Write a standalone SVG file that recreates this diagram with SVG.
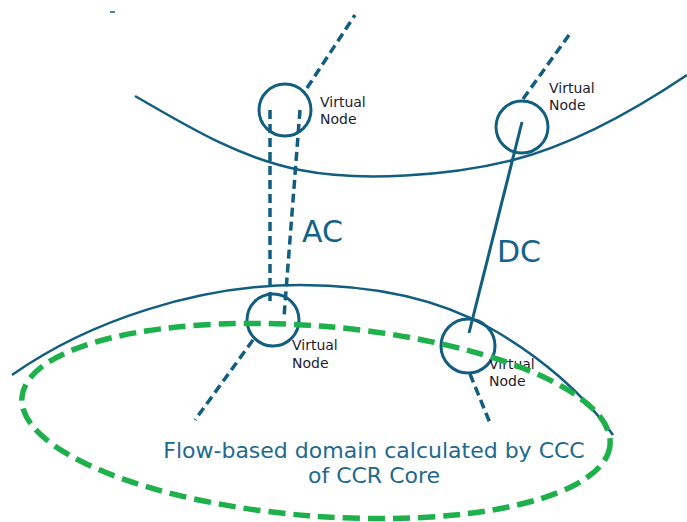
<svg xmlns="http://www.w3.org/2000/svg" width="687" height="522" viewBox="0 0 687 522">
<style>
.arc{fill:none;stroke:#125e80;stroke-width:2.5}
.vn{fill:none;stroke:#125e80;stroke-width:3}
.vt{font-family:"DejaVu Sans",Verdana,sans-serif;font-size:14px;fill:#1c1c30}
.dash{fill:none;stroke:#125e80;stroke-width:3.5;stroke-dasharray:9,5}
.solid{fill:none;stroke:#125e80;stroke-width:3}
.lbl{font-family:"DejaVu Sans",Verdana,sans-serif;font-size:30px;fill:#13628a}
.dom{fill:none;stroke:#1db04b;stroke-width:5.5;stroke-dasharray:17,8}
.domt{font-family:"DejaVu Sans",Verdana,sans-serif;font-size:22px;fill:#1e6a8e;text-anchor:middle}
</style>
<rect width="687" height="522" fill="#ffffff"/>
<line x1="110" y1="12" x2="115" y2="12" stroke="#125e80" stroke-width="1.5"/>
<g id="areas">
<path class="arc" d="M135,96 C190,128 240,158 300,170 C360,182 450,176 513,160 C560,148 620,120 687,75"/>
<path class="arc" d="M12,375 C90,320 200,285 300,285 C380,285 440,300 490,328 C540,356 585,395 613,435"/>
</g>
<g id="connectors">
<line class="dash" x1="307" y1="88" x2="355" y2="15"/>
<line class="dash" x1="270" y1="110" x2="270" y2="302"/>
<line class="dash" x1="300" y1="110" x2="284" y2="317"/>
<line class="dash" x1="523" y1="99" x2="569" y2="35"/>
<line class="solid" x1="522" y1="122" x2="469" y2="333"/>
<line class="dash" x1="253" y1="340" x2="195" y2="420"/>
<line class="dash" x1="470" y1="374" x2="490" y2="423"/>
<text class="lbl" x="302" y="242">AC</text>
<text class="lbl" x="497" y="262">DC</text>
</g>
<g id="vn-top-left">
<circle class="vn" cx="285" cy="110" r="26"/>
<text class="vt" x="320" y="107">Virtual</text>
<text class="vt" x="320" y="124">Node</text>
</g>
<g id="vn-top-right">
<circle class="vn" cx="522" cy="127" r="26"/>
<text class="vt" x="549" y="93">Virtual</text>
<text class="vt" x="549" y="110">Node</text>
</g>
<g id="vn-bottom-left">
<circle class="vn" cx="273" cy="320" r="26"/>
<text class="vt" x="292" y="350">Virtual</text>
<text class="vt" x="292" y="368">Node</text>
</g>
<g id="vn-bottom-right">
<circle class="vn" cx="468" cy="346" r="27"/>
<text class="vt" x="489" y="369">Virtual</text>
<text class="vt" x="489" y="386">Node</text>
</g>
<g id="flow-based-domain">
<ellipse class="dom" cx="316" cy="421" rx="295" ry="95" transform="rotate(4.6 316 421)"/>
<text class="domt" x="374" y="458">Flow-based domain calculated by CCC</text>
<text class="domt" x="374" y="483">of CCR Core</text>
</g>
</svg>
